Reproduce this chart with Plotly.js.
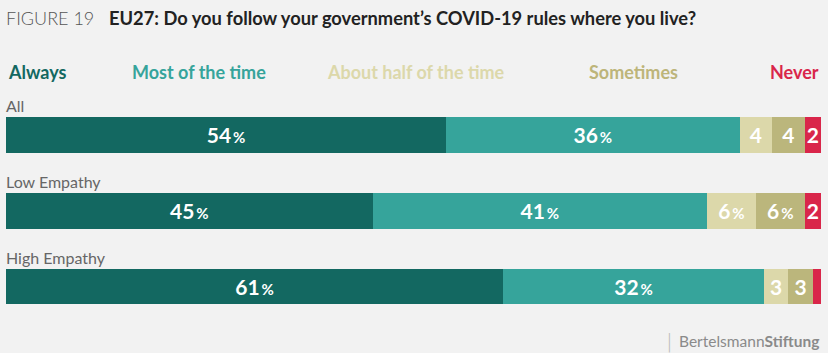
<!DOCTYPE html>
<html><head><meta charset="utf-8">
<script src="https://cdn.plot.ly/plotly-3.0.1.min.js"></script>
<style>body{margin:0;background:#f2f2f2}#c{width:828px;height:353px}</style>
</head><body><div id="c"></div>
<script>
const groups = ["All", "Low Empathy", "High Empathy"];
const answers = ["Always", "Most of the time", "About half of the time", "Sometimes", "Never"];
const colors = ["#136861", "#36a49b", "#dcd8aa", "#bbb67c", "#d9264a"];
const legendColors = ["#136861", "#36a49b", "#dcd8aa", "#bdb57a", "#d9264a"];
const always = [54, 45, 61];
const mostTime = [36, 41, 32];
const halfTime = [4, 6, 3];
const sometimes = [4, 6, 3];
const never = [2, 2, 1];
const labels = [
  ["54%", "45%", "61%"],
  ["36%", "41%", "32%"],
  ["4", "6%", "3"],
  ["4", "6%", "3"],
  ["2", "2", ""]
];
const series = [always, mostTime, halfTime, sometimes, never];

function fmt(s){
  if(s.endsWith("%")) return s.slice(0,-1) + "<span style='font-size:15px'>\u2009%</span>";
  return s;
}

const traces = series.map((vals, i) => ({
  type: "bar", orientation: "h", name: answers[i],
  y: groups, x: vals,
  marker: {color: colors[i], line: {width: 0}},
  text: labels[i].map(fmt), textposition: "inside", insidetextanchor: "middle",
  constraintext: "none", cliponaxis: false,
  textfont: {family: "Lato", size: 21, color: "#ffffff", weight: 700},
  hoverinfo: "skip"
}));

const ann = [];
ann.push({xref:"paper", yref:"paper", x:-0.0025, y:1, yshift: 79, xanchor:"left", yanchor:"middle", showarrow:false,
  text:"FIGURE 19", font:{family:"Lato", size:18, color:"#555555", weight:300}});
ann.push({xref:"paper", yref:"paper", x:0.124, y:1, yshift: 79, xanchor:"left", yanchor:"middle", showarrow:false,
  text:"<b>EU27: Do you follow your government’s COVID-19 rules where you live?</b>", font:{family:"Lato", size:18.3, color:"#222222"}});
const legX = [0, 0.2372, 0.5035, 0.77, 1];
const legAnchor = ["left", "center", "center", "center", "right"];
answers.forEach((a, i) => {
  ann.push({xref:"paper", yref:"paper", x:legX[i], y:1, yshift: 25, xanchor:legAnchor[i], yanchor:"middle", showarrow:false,
    text:"<b>"+a+"</b>", font:{family:"Lato", size:18, color:legendColors[i]}});
});
groups.forEach(g => {
  ann.push({xref:"paper", yref:"y", x:-0.0025, y:g, yshift: 29, xanchor:"left", yanchor:"middle", showarrow:false,
    text:g, font:{family:"Lato", size:16, color:"#666666"}});
});
ann.push({xref:"paper", yref:"paper", x:1, y:0, yshift:-14, xanchor:"right", yanchor:"middle", showarrow:false,
  text:"Bertelsmann<b>Stiftung</b>", font:{family:"Lato", size:15.5, color:"#8a8a8a"}});
ann.push({xref:"paper", yref:"paper", x:0.8135, y:0, yshift:-14, xanchor:"center", yanchor:"middle", showarrow:false,
  text:"|", font:{family:"DejaVu Sans", size:20, color:"#bbbbbb", weight:200}});

const layout = {
  width: 828, height: 353,
  paper_bgcolor: "#f2f2f2", plot_bgcolor: "#f2f2f2",
  margin: {l: 6, r: 7, t: 97, b: 26},
  barmode: "stack", bargap: 0.53, showlegend: false,
  xaxis: {range: [0, 100], visible: false, fixedrange: true},
  yaxis: {autorange: "reversed", visible: false, fixedrange: true},
  annotations: ann,
  font: {family: "Lato"}
};
Plotly.newPlot("c", traces, layout, {staticPlot: true, displayModeBar: false});
</script></body></html>
